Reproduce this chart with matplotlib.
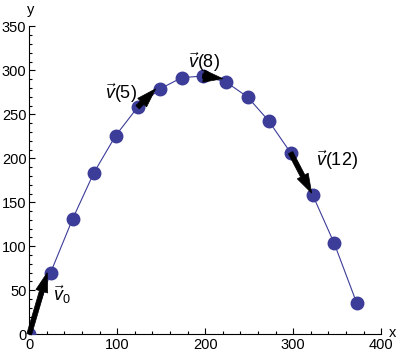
import matplotlib
matplotlib.use("Agg")
import matplotlib.pyplot as plt
from matplotlib.ticker import MultipleLocator

plt.rcParams['font.family'] = ['Liberation Sans', 'DejaVu Sans']
plt.rcParams['mathtext.fontset'] = 'custom'
plt.rcParams['mathtext.rm'] = 'Liberation Sans'
plt.rcParams['mathtext.it'] = 'Liberation Sans:italic'

# trajectory samples (x, y)
xs = [0, 24.3, 49.3, 73.5, 98.2, 123.2, 148.5, 173.2, 197, 223.2, 248.2, 272, 297, 322, 346.6, 372]
ys = [0, 70, 131, 183.6, 225.7, 258, 278.8, 291.6, 293.5, 287, 269.7, 242.7, 206.4, 158.6, 103.4, 36]

# velocity arrows: index of start sample and vector components
arrow_idx = [0, 5, 8, 12]
arrow_vx = [20.5, 20.5, 23.0, 24.0]
arrow_vy = [70.0, 21.0, -3.0, -46.0]
arrow_labels = [r'$\vec{v}_0$', r'$\vec{v}$(5)', r'$\vec{v}$(8)', r'$\vec{v}$(12)']
label_x = [27, 86, 180, 326]
label_y = [45, 274, 309, 198]

color = '#3c3c99'

fig = plt.figure(figsize=(4.0, 3.57), dpi=100)
ax = fig.add_axes([0.073, 0.0636, 0.88, 0.8627])
ax.set_xlim(0, 400)
ax.set_ylim(0, 350)

ax.plot(xs, ys, '-', color=color, lw=0.8, zorder=2)
ax.plot(xs, ys, 'o', color=color, ms=9.0, mec=color, zorder=3)

for i, vx, vy in zip(arrow_idx, arrow_vx, arrow_vy):
    ax.arrow(xs[i], ys[i], vx, vy, width=5.5, head_width=14, head_length=22,
             length_includes_head=True, fc='black', ec='black', lw=0.5,
             zorder=4, clip_on=False)

for t, lx, ly in zip(arrow_labels, label_x, label_y):
    ax.text(lx, ly, t, fontsize=13, ha='left', va='center', zorder=5)

for s in ['top', 'right']:
    ax.spines[s].set_visible(False)
for s in ['left', 'bottom']:
    ax.spines[s].set_linewidth(0.8)

ax.xaxis.set_major_locator(MultipleLocator(100))
ax.xaxis.set_minor_locator(MultipleLocator(20))
ax.yaxis.set_major_locator(MultipleLocator(50))
ax.yaxis.set_minor_locator(MultipleLocator(10))
ax.tick_params(which='both', direction='in', width=0.8, labelsize=10.5)
ax.tick_params(which='major', length=4.5)
ax.tick_params(which='minor', length=2.5)
ax.tick_params(axis='x', pad=3)
ax.tick_params(axis='y', pad=2)

ax.text(413, 2, 'x', fontsize=10.5, ha='center', va='center', clip_on=False)
ax.text(2, 368, 'y', fontsize=10.5, ha='center', va='center', clip_on=False)

fig.savefig('out.png', dpi=100)
